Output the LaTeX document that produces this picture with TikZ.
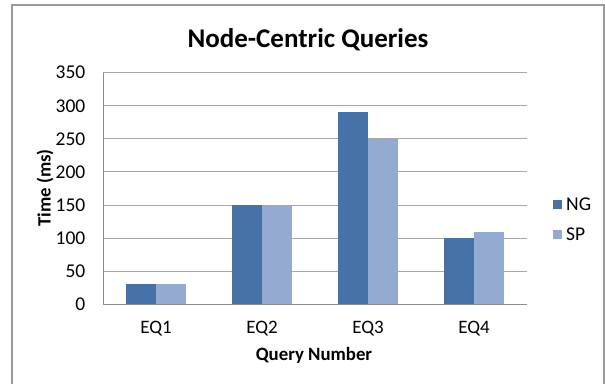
\documentclass[tikz,border=0pt]{standalone}
\usepackage{fontspec}
\setmainfont{Carlito}
\definecolor{ngc}{HTML}{4672A8}
\definecolor{spc}{HTML}{95AAD1}
\definecolor{gridc}{HTML}{A8A8A8}
\definecolor{axisc}{HTML}{8C8C8C}
\definecolor{framec}{HTML}{9A9A9A}
\tikzset{
  ngbar/.style={fill=ngc,draw=none},
  spbar/.style={fill=spc,draw=none},
  gridline/.style={draw=gridc,line width=1pt},
  axisline/.style={draw=axisc,line width=1pt},
  ticklab/.style={anchor=east,inner sep=0pt,font=\fontsize{19.5}{22}\selectfont},
  catlab/.style={anchor=center,inner sep=0pt,font=\fontsize{19}{22}\selectfont},
  axtitle/.style={inner sep=0pt,font=\bfseries\fontsize{18.8}{22}\selectfont},
  leglab/.style={anchor=west,inner sep=0pt,font=\fontsize{19.5}{22}\selectfont}
}
\begin{document}
\begin{tikzpicture}[x=1pt,y=-1pt]
\useasboundingbox (0,0) rectangle (605,383);
\fill[white] (0,0) rectangle (605,383);
\begin{scope}
\clip (0,0) rectangle (605,383);
\draw[framec,line width=1.2pt] (12,5) rectangle (604,420);
\end{scope}
\node[inner sep=0pt,font=\bfseries\fontsize{27}{31}\selectfont] (title) at (308,40) {Node-Centric Queries};
% gridlines
\foreach \k/\lab in {1/50,2/100,3/150,4/200,5/250,6/300,7/350}{
  \draw[gridline] (103,{304.3-\k*33.09}) -- (527,{304.3-\k*33.09});
  \node[ticklab] (t\k) at (85.5,{304.3-\k*33.09}) {\lab};
}
\node[ticklab] (t0) at (85.5,304.3) {0};
% bars
\foreach \i/\ng/\sp in {0/30/30,1/150/150,2/290/250,3/100/110}{
  \fill[ngbar] ({126+\i*106},304.3) rectangle ({156+\i*106},{304.3-\ng*0.6617});
  \fill[spbar] ({156+\i*106},304.3) rectangle ({186+\i*106},{304.3-\sp*0.6617});
}
% axes
\coordinate (o) at (103,304.3);
\coordinate (ytop) at (103,72.7);
\coordinate (xend) at (527,304.3);
\draw[axisline] (ytop) -- (o) -- (xend);
% category labels
\foreach \i/\lab in {0/EQ1,1/EQ2,2/EQ3,3/EQ4}{
  \node[catlab] (c\i) at ({156+\i*106},329) {\lab};
}
\node[axtitle] (xt) at (314,355) {Query Number};
\node[axtitle,rotate=90] (yt) at (45,188) {Time (ms)};
% legend
\fill[ngbar] (553,200) rectangle (562,209);
\node[leglab] (lng) at (566,204.5) {NG};
\fill[spbar] (553,230) rectangle (562,239);
\node[leglab] (lsp) at (566,234.5) {SP};
\end{tikzpicture}
\end{document}
